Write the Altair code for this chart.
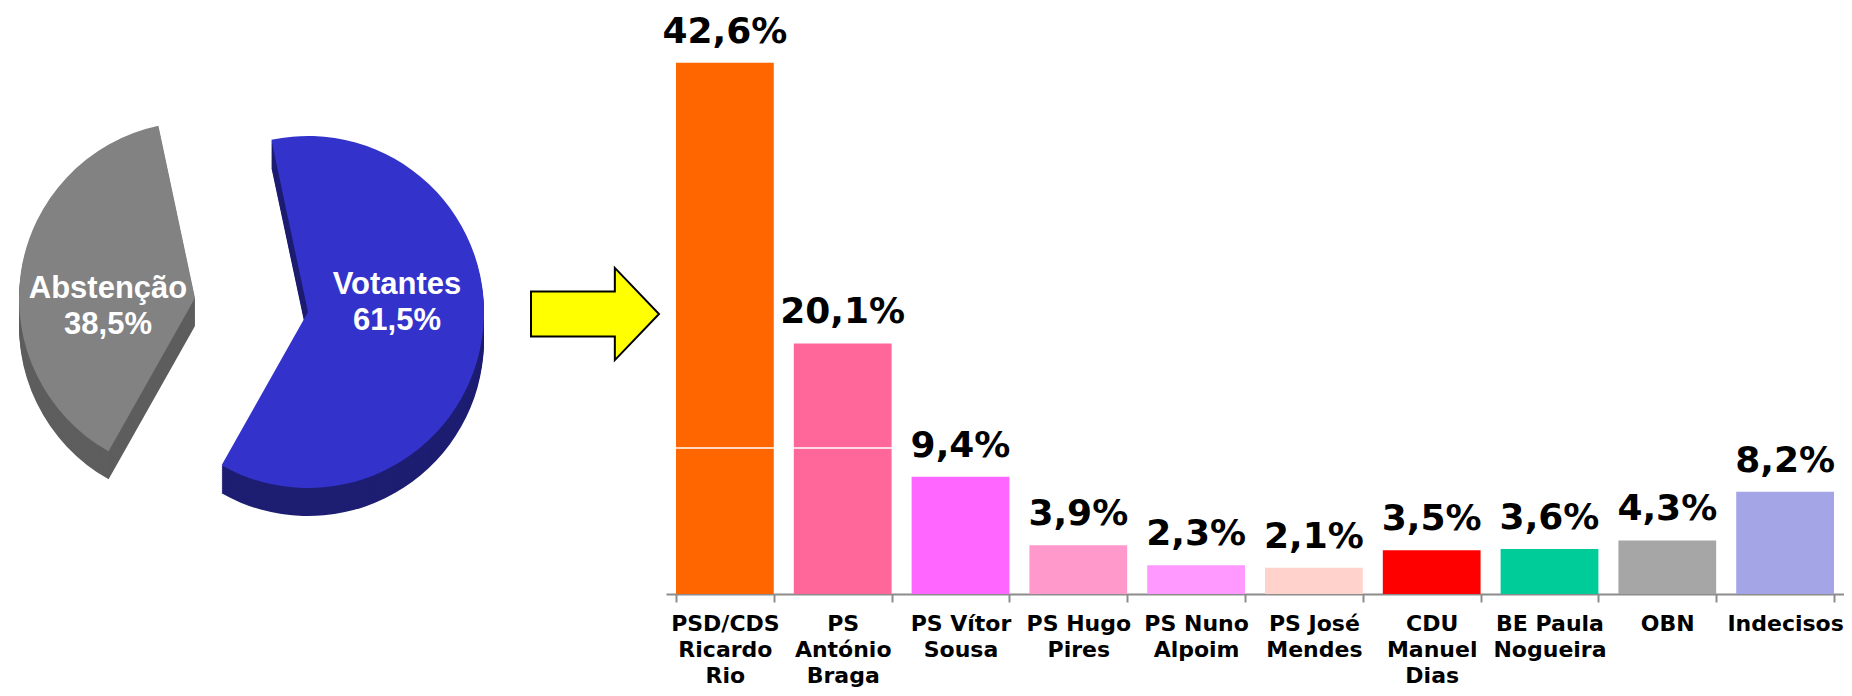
import math
import altair as alt
import pandas as pd

# ---- data ----
categories = ["PSD/CDS\nRicardo\nRio", "PS\nAntónio\nBraga", "PS Vítor\nSousa", "PS Hugo\nPires",
              "PS Nuno\nAlpoim", "PS José\nMendes", "CDU\nManuel\nDias", "BE Paula\nNogueira",
              "OBN", "Indecisos"]
values = [42.6, 20.1, 9.4, 3.9, 2.3, 2.1, 3.5, 3.6, 4.3, 8.2]
bar_colors = ["#FF6600", "#FF6699", "#FF66FF", "#FF99CC", "#FF99FF", "#FFD3CC",
              "#FF0000", "#00CC99", "#A6A6A6", "#A3A5E6"]

pie_labels = ["Votantes", "Abstenção"]
pie_values = [61.5, 38.5]
pie_top_colors = ["#3333CC", "#828282"]
pie_side_colors = ["#1D1D72", "#5E5E5E"]

grid_values = [11.7]

# ---- layout constants ----
W, H = 1836, 586
R = 176
START = 2 * math.pi - math.radians(12)
FONT = "DejaVu Sans"

bar_df = pd.DataFrame({"cat": categories, "value": values})
pie_df = pd.DataFrame({"label": pie_labels, "value": pie_values,
                       "top": pie_top_colors, "side": pie_side_colors})
grid_df = pd.DataFrame({"g": grid_values})

x_enc = alt.X(
    "cat:N", sort=categories,
    scale=alt.Scale(domain=categories, range=[658, W], paddingInner=0.17, paddingOuter=0.085),
    axis=alt.Axis(title=None, labelAngle=0, grid=False, tickBand="extent", tickSize=8,
                  tickWidth=2, tickColor="#8C8C8C", domainColor="#8C8C8C", domainWidth=2,
                  labelFont=FONT, labelFontSize=22, labelFontWeight="bold", labelColor="black",
                  labelLineHeight=26, labelPadding=11,
                  labelExpr="isValid(datum.value) ? split(datum.value, '\\n') : ''"),
)
y_scale = alt.Scale(domain=[0, 47.0], nice=False, zero=True)

bars = alt.Chart(bar_df).mark_bar().encode(
    x=x_enc,
    y=alt.Y("value:Q", scale=y_scale, axis=None),
    color=alt.Color("cat:N", scale=alt.Scale(domain=categories, range=bar_colors), legend=None),
)

grid_rule = alt.Chart(grid_df).mark_rule(color="white", strokeWidth=1.5).encode(
    y=alt.Y("g:Q", scale=y_scale, axis=None)
)

bar_text = alt.Chart(bar_df).transform_calculate(
    txt="replace(format(datum.value, '.1f'), '.', ',') + '%'"
).mark_text(font=FONT, fontSize=36, fontWeight="bold", color="black",
            baseline="alphabetic", dy=-20).encode(
    x=x_enc,
    y=alt.Y("value:Q", scale=y_scale, axis=None),
    text="txt:N",
)

# ---- pie ----
pie_base = alt.Chart(pie_df).transform_window(
    cum="sum(value)"
).transform_calculate(start="datum.cum - datum.value")

theta_scale = alt.Scale(domain=[0, 100], range=[START, START + 2 * math.pi])
centers = {"Votantes": (300, 304), "Abstenção": (187, 290)}
text_pos = {"Votantes": (389, 277), "Abstenção": (100, 281)}


def pie_layer(label, d, col):
    cx, cy = centers[label]
    return pie_base.transform_filter(alt.datum.label == label).mark_arc(radius=R).encode(
        theta=alt.Theta("start:Q", scale=theta_scale, stack=False),
        theta2=alt.Theta2("cum:Q"),
        x=alt.value(cx),
        y=alt.value(cy + d),
        color=alt.Color(col + ":N", scale=None, legend=None),
    )


pie_layers = []
for lab in pie_labels:
    pie_layers += [pie_layer(lab, d, "side") for d in range(28, 0, -2)]
for lab in pie_labels:
    pie_layers.append(pie_layer(lab, 0, "top"))

pie_texts = []
for lab in pie_labels:
    tx, ty = text_pos[lab]
    pie_texts.append(
        pie_base.transform_filter(alt.datum.label == lab).transform_calculate(
            txt="datum.label + '\\n' + replace(format(datum.value, '.1f'), '.', ',') + '%'"
        ).mark_text(font="Liberation Sans", fontSize=31, fontWeight="bold", color="white",
                    lineBreak="\n", lineHeight=36, baseline="middle", align="center").encode(
            x=alt.value(tx), y=alt.value(ty), text="txt:N"
        )
    )

# ---- arrow ----
arrow_path = "M-1,-0.35L0.31,-0.35L0.31,-0.72L1,0L0.31,0.72L0.31,0.35L-1,0.35Z"
arrow = alt.Chart(pd.DataFrame({"a": [0]})).mark_point(
    shape=arrow_path, size=16384, filled=True, fill="#FFFF00", stroke="black",
    strokeWidth=2, opacity=1, strokeOpacity=1, fillOpacity=1,
).encode(x=alt.value(587), y=alt.value(306))

chart = alt.layer(
    bars, grid_rule, bar_text, *pie_layers, *pie_texts, arrow
).properties(
    width=W, height=H,
    autosize=alt.AutoSizeParams(type="none"),
    padding={"left": 0, "top": 0, "right": 0, "bottom": 94},
).configure_view(stroke="transparent")

chart.save("out.html", embed_options={"renderer": "svg", "actions": False})
